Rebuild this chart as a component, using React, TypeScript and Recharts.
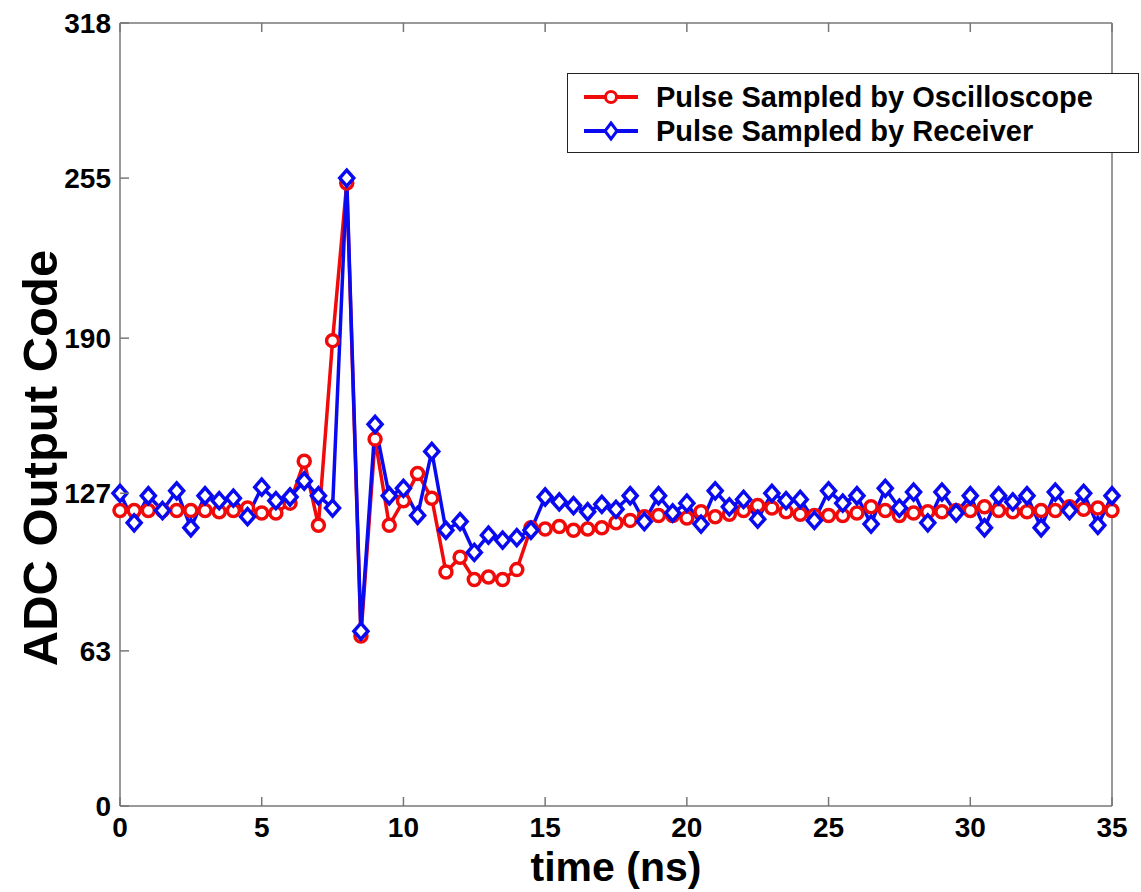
import { Line, LineChart, XAxis, YAxis } from "recharts"

// sample times (ns)
const time = [
  0, 0.5, 1, 1.5, 2, 2.5, 3, 3.5, 4, 4.5, 5, 5.5, 6, 6.5, 7, 7.5, 8, 8.5, 9, 9.5,
  10, 10.5, 11, 11.5, 12, 12.5, 13, 13.5, 14, 14.5, 15, 15.5, 16, 16.5, 17, 17.5,
  18, 18.5, 19, 19.5, 20, 20.5, 21, 21.5, 22, 22.5, 23, 23.5, 24, 24.5, 25, 25.5,
  26, 26.5, 27, 27.5, 28, 28.5, 29, 29.5, 30, 30.5, 31, 31.5, 32, 32.5, 33, 33.5,
  34, 34.5, 35,
]

const oscilloscope = [
  120, 120, 120, 120, 120, 120, 120, 119.5, 120, 121, 119, 119, 123, 140, 114, 189,
  253, 69, 149, 114, 124, 135, 125, 95, 101, 92, 93, 92, 96, 113, 112.5, 113.5,
  112, 112.5, 113, 115, 116, 117.5, 118, 118, 117, 119.5, 117.5, 118.5, 120, 122,
  121, 119.5, 118.5, 118, 118, 118, 119, 121.5, 120, 118, 119, 119.5, 119.5, 120,
  120, 121.5, 120, 119.5, 119.5, 120, 120, 121.5, 120.5, 121, 120,
]

const receiver = [
  127, 115, 126, 120, 128, 113, 126, 124, 125, 117.5, 129.5, 124, 125.5, 132, 126,
  121, 255, 71, 155, 126, 129, 118, 144, 112, 115.5, 103, 110, 108, 109, 112, 125.5,
  123.5, 122, 119.5, 122.5, 120.5, 126, 115.5, 126, 119, 123, 114.5, 128, 121.5,
  124.5, 116.5, 127, 124, 124.5, 116, 128, 123, 126, 114.5, 129, 121, 127.5, 115,
  127.5, 119, 126, 113, 126, 123.5, 126, 113, 127.5, 120, 127, 114, 126,
]

const xTicks = [0, 5, 10, 15, 20, 25, 30, 35]
const yTicks = [0, 63, 127, 190, 255, 318]

const RED = "#f00a0a"
const BLUE = "#0a0af0"
const AXIS = "#777"
const FONT = "'Liberation Sans', Arial, sans-serif"

const W = 1141
const H = 892
const LEFT = 120
const RIGHT = 1112
const TOP = 23
const BOTTOM = 806
const TICK = 9

const data = time.map((t, i) => ({ t, osc: oscilloscope[i], rcv: receiver[i] }))

function BottomTick({ x, payload }: any) {
  return (
    <g>
      <line x1={x} x2={x} y1={BOTTOM} y2={BOTTOM - TICK} stroke={AXIS} strokeWidth={1.5} />
      <text x={x} y={BOTTOM + 31} textAnchor="middle" fontSize={28} fontWeight="bold" fontFamily={FONT} fill="#000">
        {payload.value}
      </text>
    </g>
  )
}

function TopTick({ x }: any) {
  return <line x1={x} x2={x} y1={TOP} y2={TOP + TICK} stroke={AXIS} strokeWidth={1.5} />
}

function LeftTick({ y, payload }: any) {
  return (
    <g>
      <line x1={LEFT} x2={LEFT + TICK} y1={y} y2={y} stroke={AXIS} strokeWidth={1.5} />
      <text x={LEFT - 9} y={y + 10} textAnchor="end" fontSize={28} fontWeight="bold" fontFamily={FONT} fill="#000">
        {payload.value}
      </text>
    </g>
  )
}

function RightTick({ y }: any) {
  return <line x1={RIGHT} x2={RIGHT - TICK} y1={y} y2={y} stroke={AXIS} strokeWidth={1.5} />
}

function Diamond({ cx, cy, index }: any) {
  if (cx == null || cy == null) return null
  const w = 7
  const h = 8
  return (
    <polygon
      key={`d-${index}`}
      points={`${cx},${cy - h} ${cx + w},${cy} ${cx},${cy + h} ${cx - w},${cy}`}
      fill="#fff"
      stroke={BLUE}
      strokeWidth={3.5}
    />
  )
}

function LegendBox() {
  const row = (label: string, color: string, diamond: boolean) => (
    <div style={{ display: "flex", alignItems: "center", height: 34 }}>
      <svg width={80} height={34} style={{ flex: "none" }}>
        <line x1={16} x2={70} y1={17} y2={17} stroke={color} strokeWidth={4} />
        {diamond ? (
          <polygon points="43,9 49,17 43,25 37,17" fill="#fff" stroke={color} strokeWidth={3} />
        ) : (
          <circle cx={43} cy={17} r={5.5} fill="#fff" stroke={color} strokeWidth={3} />
        )}
      </svg>
      <span style={{ marginLeft: 8, fontSize: 29, fontWeight: "bold", fontFamily: FONT, color: "#000" }}>{label}</span>
    </div>
  )
  return (
    <div
      style={{
        position: "absolute",
        left: 567,
        top: 73,
        width: 572,
        height: 80,
        border: "1.5px solid #222",
        background: "#fff",
        boxSizing: "border-box",
        paddingTop: 6,
      }}
    >
      {row("Pulse Sampled by Oscilloscope", RED, false)}
      {row("Pulse Sampled by Receiver", BLUE, true)}
    </div>
  )
}

export default function App() {
  return (
    <div style={{ position: "absolute", left: 0, top: 0, width: W, height: H, background: "#fff" }}>
      <LineChart
        width={W}
        height={H}
        data={data}
        margin={{ top: TOP - 1, right: W - RIGHT - 1, left: LEFT - 60, bottom: H - BOTTOM - 40 }}
      >
        <XAxis
          dataKey="t"
          type="number"
          domain={[0, 35]}
          ticks={xTicks}
          height={40}
          tickLine={false}
          axisLine={{ stroke: AXIS, strokeWidth: 1.5 }}
          tick={<BottomTick />}
          interval={0}
        />
        <XAxis
          xAxisId="top"
          orientation="top"
          dataKey="t"
          type="number"
          domain={[0, 35]}
          ticks={xTicks}
          height={1}
          tickLine={false}
          axisLine={{ stroke: AXIS, strokeWidth: 1.5 }}
          tick={<TopTick />}
          interval={0}
        />
        <YAxis
          type="number"
          domain={[0, 318]}
          ticks={yTicks}
          width={60}
          tickLine={false}
          axisLine={{ stroke: AXIS, strokeWidth: 1.5 }}
          tick={<LeftTick />}
          interval={0}
        />
        <YAxis
          yAxisId="right"
          orientation="right"
          type="number"
          domain={[0, 318]}
          ticks={yTicks}
          width={1}
          tickLine={false}
          axisLine={{ stroke: AXIS, strokeWidth: 1.5 }}
          tick={<RightTick />}
          interval={0}
        />
        <Line
          type="linear"
          dataKey="osc"
          stroke={RED}
          strokeWidth={3.5}
          dot={{ r: 6, fill: "#fff", stroke: RED, strokeWidth: 3.5 }}
          isAnimationActive={false}
        />
        <Line
          type="linear"
          dataKey="rcv"
          stroke={BLUE}
          strokeWidth={3.5}
          dot={<Diamond />}
          isAnimationActive={false}
        />
      </LineChart>
      <svg width={W} height={H} style={{ position: "absolute", left: 0, top: 0, pointerEvents: "none" }}>
        <text
          x={616}
          y={881}
          textAnchor="middle"
          fontSize={41}
          fontWeight="bold"
          fontFamily={FONT}
          fill="#000"
        >
          time (ns)
        </text>
        <text
          transform="translate(57, 458) rotate(-90)"
          textAnchor="middle"
          fontSize={49}
          fontWeight="bold"
          fontFamily={FONT}
          fill="#000"
        >
          ADC Output Code
        </text>
      </svg>
      <LegendBox />
    </div>
  )
}
